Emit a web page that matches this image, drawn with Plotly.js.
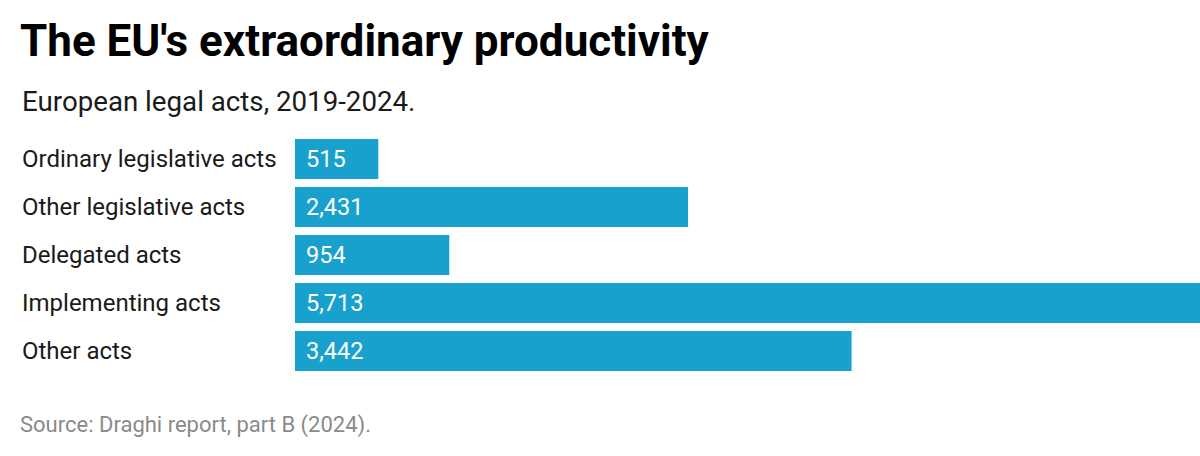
<!DOCTYPE html>
<html>
<head>
<meta charset="utf-8">
<script src="https://cdn.plot.ly/plotly-3.0.1.min.js"></script>
<style>html,body{margin:0;padding:0;background:#fff;}#chart{width:1200px;height:456px;}</style>
</head>
<body>
<div id="chart"></div>
<script>
const categories = ["Ordinary legislative acts", "Other legislative acts", "Delegated acts", "Implementing acts", "Other acts"];
const values = [515, 2431, 954, 5713, 3442];
const valueLabels = ["515", "2,431", "954", "5,713", "3,442"];

const FONT = "Roboto, 'Noto Sans', sans-serif";
const barColor = "#18a1cd";
const LEFT = -275 / 905;

const annotations = [];
categories.forEach((c, i) => {
  annotations.push({
    xref: "paper", yref: "y", x: LEFT, y: c, xanchor: "left", yanchor: "middle",
    text: c, showarrow: false, font: {family: FONT, size: 24, color: "#1a1a1a"}
  });
  annotations.push({
    xref: "x", yref: "y", x: 0, y: c, xanchor: "left", yanchor: "middle", xshift: 9,
    text: valueLabels[i], showarrow: false, font: {family: FONT, size: 23.5, color: "#ffffff"}
  });
});
annotations.push({
  xref: "paper", yref: "paper", x: LEFT, y: 1 + 34 / 240, xanchor: "left", yanchor: "middle",
  text: "European legal acts, 2019-2024.", showarrow: false,
  font: {family: FONT, size: 27.7, color: "#1a1a1a"}
});
annotations.push({
  xref: "paper", yref: "paper", x: -277 / 905, y: -50 / 240, xanchor: "left", yanchor: "middle",
  text: "Source: Draghi report, part B (2024).", showarrow: false,
  font: {family: FONT, size: 22, color: "#8a8a8a"}
});

const data = [{
  type: "bar", orientation: "h", x: values, y: categories,
  marker: {color: barColor}, hoverinfo: "none"
}];

const layout = {
  width: 1200, height: 456,
  margin: {l: 295, r: 0, t: 135, b: 81, pad: 0},
  paper_bgcolor: "#fff", plot_bgcolor: "#fff",
  bargap: 8 / 48,
  showlegend: false,
  title: {
    text: "<b>The EU's extraordinary productivity</b>",
    x: 20 / 1200, xanchor: "left", xref: "container",
    y: 1 - 41 / 456, yanchor: "middle", yref: "container",
    font: {family: FONT, size: 44, color: "#000", weight: 900}
  },
  xaxis: {range: [0, 905 / 0.1617], visible: false, fixedrange: true},
  yaxis: {autorange: "reversed", visible: false, fixedrange: true},
  annotations: annotations
};

Plotly.newPlot("chart", data, layout, {displayModeBar: false, staticPlot: true});
</script>
</body>
</html>
